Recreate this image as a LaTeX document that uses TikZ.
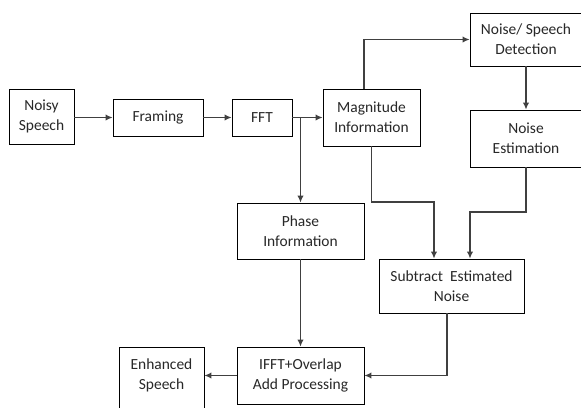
\documentclass[tikz,border=0pt]{standalone}
\usepackage{fontspec}
\setmainfont{Carlito}
\usetikzlibrary{calc, positioning, arrows.meta}
\definecolor{lineC}{RGB}{64, 64, 64}
\definecolor{textC}{RGB}{40, 40, 40}

\begin{document}
\begin{tikzpicture}[x=0.025cm, y=-0.025cm, >={Latex[length=5pt, width=4.5pt]},
    box/.style={draw, line width=0.6pt, inner sep=0pt, align=center, text=textC,
      font=\fontsize{11}{14}\selectfont},
    link/.style={->, lineC, line width=0.8pt}]
  \useasboundingbox (0, 0) rectangle (581, 408);
  \fill[white] (0, 0) rectangle (581, 408);
  \clip (0, 0) rectangle (581, 408);

  % top row
  \node[box, minimum width=1.625cm, minimum height=1.375cm] (noisy) at (41.5, 116.5) {Noisy\\Speech};
  \node[box, minimum width=2.25cm, minimum height=0.925cm] (framing) at (158, 117.5) {Framing};
  \node[box, minimum width=1.5cm, minimum height=0.925cm] (fft) at (262, 117.5) {FFT};
  \node[box, minimum width=2.425cm, minimum height=1.425cm] (mag) at (371.5, 117.5) {Magnitude\\Information};

  % noise branch
  \node[box, minimum width=2.8cm, minimum height=1.325cm] (detect) at (526, 39.5) {Noise/ Speech\\Detection};
  \node[box, minimum width=2.8cm, minimum height=1.425cm] (est) at (526, 138.5) {Noise\\Estimation};
  \node[box, minimum width=3.625cm, minimum height=1.35cm] (sub) at (451.5, 286) {Subtract\ \ Estimated\\Noise};

  % phase path and output
  \node[box, minimum width=3.175cm, minimum height=1.4cm] (phase) at (300.5, 231) {Phase\\Information};
  \node[box, minimum width=3.175cm, minimum height=1.425cm] (ifft) at (300.5, 375.5) {IFFT+Overlap\\Add Processing};
  \node[box, minimum width=2.125cm, minimum height=2.075cm] (enh) at (161.5, 388.5) {};
  \node[box, draw=none] (enhtxt) at (161.5, 375.5) {Enhanced\\Speech};

  \coordinate (fftbr) at (fft.east -| phase);
  \coordinate (magknee) at (0, 202);
  \coordinate (estknee) at (0, 212);

  \draw[link] (noisy.east |- framing) -- (framing.west);
  \draw[link] (framing) -- (fft);
  \draw[link] (fft) -- (mag);
  \draw[link] (fftbr) -- (phase.north);
  \draw[link] ($(mag.north)+(-7.5, 0)$) |- (detect.west);
  \draw[link] (detect) -- (est);
  \draw[link] (mag.south) -- (mag.south |- magknee) -| ($(sub.north)+(-17.5, 0)$);
  \draw[link] (est.south) -- (est.south |- estknee) -| ($(sub.north)+(18.5, 0)$);
  \draw[link] (phase) -- (ifft);
  \draw[link] ($(sub.south)+(-4.5, 0)$) |- (ifft.east);
  \draw[link] (ifft.west) -- (ifft.west -| enh.east);
\end{tikzpicture}
\end{document}
